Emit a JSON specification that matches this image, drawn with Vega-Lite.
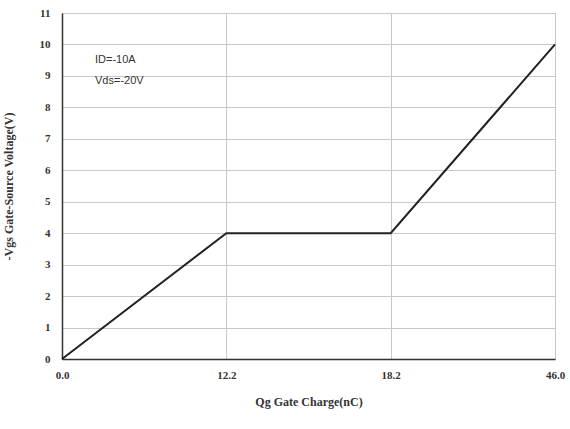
{
  "$schema": "https://vega.github.io/schema/vega-lite/v6.json",
  "width": 493,
  "height": 346,
  "autosize": {"type": "none"},
  "padding": {"left": 62, "top": 13, "right": 15, "bottom": 70},
  "background": "white",
  "config": {
    "view": {"stroke": "#999999", "strokeWidth": 1},
    "axis": {
      "labelFont": "Liberation Serif",
      "labelFontWeight": "bold",
      "labelFontSize": 11,
      "labelColor": "#333333",
      "titleFont": "Liberation Serif",
      "titleFontWeight": "bold",
      "titleFontSize": 12,
      "titleColor": "#333333",
      "gridColor": "#c8c8c8",
      "gridWidth": 1,
      "ticks": false,
      "domainColor": "#333333",
      "domainWidth": 1.5
    }
  },
  "encoding": {
    "x": {
      "field": "qg",
      "type": "ordinal",
      "sort": null,
      "scale": {"type": "point", "padding": 0},
      "axis": {"title": "Qg Gate Charge(nC)", "labelAngle": 0, "labelPadding": 10, "titlePadding": 16, "grid": true}
    },
    "y": {
      "field": "vgs",
      "type": "quantitative",
      "scale": {"domain": [0, 11], "nice": false},
      "axis": {"title": "-Vgs Gate-Source Voltage(V)", "values": [0,1,2,3,4,5,6,7,8,9,10,11], "labelOverlap": false, "labelPadding": 12, "titlePadding": 24, "grid": true}
    }
  },
  "layer": [
    {
      "data": {
        "values": [
          {"qg": "0.0", "vgs": 0},
          {"qg": "12.2", "vgs": 4},
          {"qg": "18.2", "vgs": 4},
          {"qg": "46.0", "vgs": 10}
        ]
      },
      "mark": {"type": "line", "color": "#222222", "strokeWidth": 2}
    },
    {
      "data": {
        "values": [
          {"qg": "0.0", "vgs": 9.5, "label": "ID=-10A"},
          {"qg": "0.0", "vgs": 8.85, "label": "Vds=-20V"}
        ]
      },
      "mark": {"type": "text", "align": "left", "baseline": "middle", "dx": 33, "font": "Liberation Sans", "fontSize": 11, "color": "#333333"},
      "encoding": {
        "text": {"field": "label"}
      }
    }
  ]
}
